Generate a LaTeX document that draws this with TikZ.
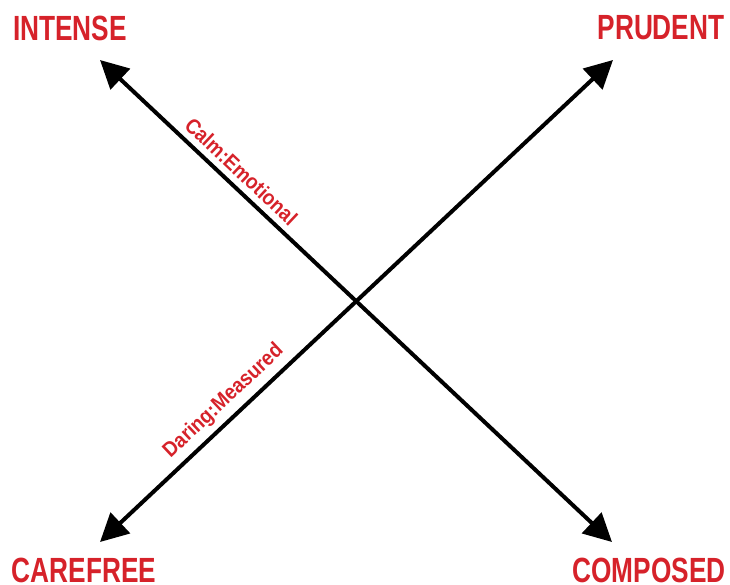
\documentclass[tikz,border=0pt]{standalone}
\usepackage{fontspec}
\usetikzlibrary{arrows.meta}
\newfontfamily\headfont[FakeStretch=0.75]{Liberation Sans Bold}
\newfontfamily\axisfont[FakeStretch=0.9]{Liberation Sans Bold}
\definecolor{tonered}{RGB}{214,34,42}
\tikzset{
  corner/.style={text=tonered,font=\headfont\fontsize{17.5}{18}\selectfont,inner sep=0pt},
  axislabel/.style={text=tonered,font=\axisfont\fontsize{10.6}{11}\selectfont,sloped,inner sep=0pt},
  axis/.style={line width=2pt,{Triangle[length=14pt,width=14pt]}-{Triangle[length=14pt,width=14pt]}}
}
\begin{document}
\begin{tikzpicture}[x=0.5pt,y=-0.5pt]
            \useasboundingbox (0,0) rectangle (730,585);
            % four corner words
            \node[corner] (intense) at (70,28) {INTENSE};
            \node[corner] (prudent) at (661,28) {PRUDENT};
            \node[corner] (carefree) at (84,570) {CAREFREE};
            \node[corner] (composed) at (649,570) {COMPOSED};
            % arrow ends
            \coordinate (tl) at (100,60);
            \coordinate (tr) at (613,60);
            \coordinate (bl) at (100,542);
            \coordinate (br) at (612,542);
            % calm:emotional axis
            \draw[axis] (tl) -- (br) node[axislabel,pos=0.255,above=3pt] {Calm:Emotional};
            % daring:measured axis
            \draw[axis] (bl) -- (tr) node[axislabel,pos=0.265,above=3pt] {Daring:Measured};
          \end{tikzpicture}
\end{document}
